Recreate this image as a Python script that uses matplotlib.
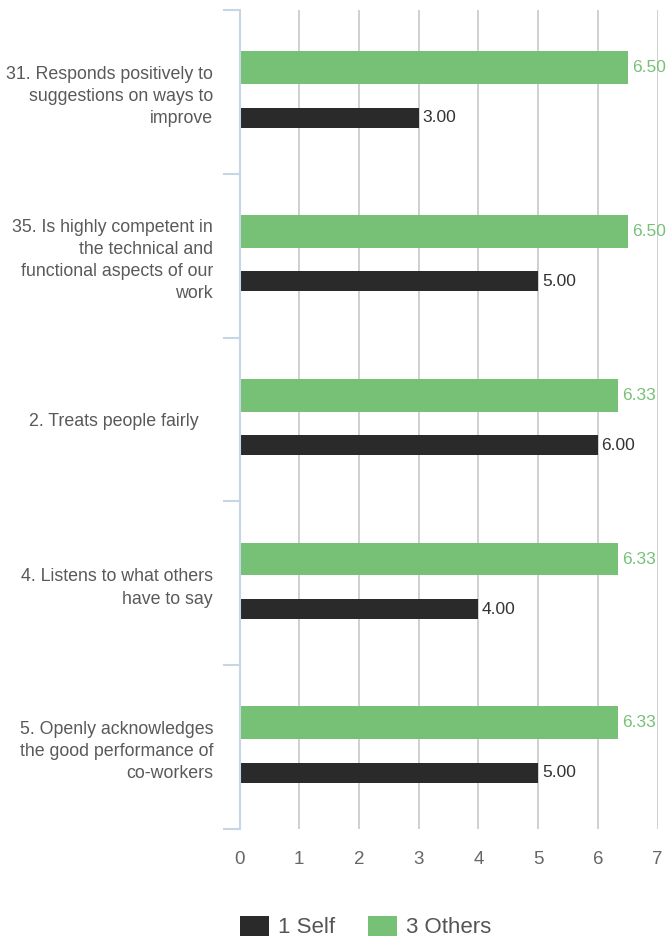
import matplotlib.pyplot as plt
import numpy as np
from matplotlib.patches import Patch

plt.rcParams['font.family'] = ['Liberation Sans', 'DejaVu Sans']

questions = [
    "31. Responds positively to\nsuggestions on ways to\nimprove",
    "35. Is highly competent in\nthe technical and\nfunctional aspects of our\nwork",
    "2. Treats people fairly   ",
    "4. Listens to what others\nhave to say",
    "5. Openly acknowledges\nthe good performance of\nco-workers",
]
self_scores = [3.00, 5.00, 6.00, 4.00, 5.00]
others_scores = [6.50, 6.50, 6.33, 6.33, 6.33]
series_names = ["1 Self", "3 Others"]

green = "#77c177"
dark = "#2a2a2a"
text_grey = "#595959"
axis_blue = "#c7d5e6"

W, H = 666, 941
fig = plt.figure(figsize=(W / 100, H / 100), dpi=100)
ax = fig.add_axes([239.5 / W, 1 - 829 / H, (657.7 - 239.5) / W, (829 - 10) / H])

y = np.arange(len(questions))
ax.barh(y - 0.148, others_scores, height=0.2, color=green, zorder=3)
ax.barh(y + 0.157, self_scores, height=0.122, color=dark, zorder=3)

for yi, v in zip(y, others_scores):
    ax.text(v + 0.08, yi - 0.148, f"{v:.2f}", color=green, fontsize=12.5,
            va="center", ha="left", zorder=4)
for yi, v in zip(y, self_scores):
    ax.text(v + 0.06, yi + 0.157, f"{v:.2f}", color="#333333", fontsize=12.5,
            va="center", ha="left", zorder=4)

ax.set_xlim(0, 7)
ax.set_ylim(len(questions) - 0.5, -0.5)
ax.set_xticks(range(8))
ax.xaxis.grid(True, color="#c8c8c8", linewidth=1.2, zorder=0)
ax.tick_params(axis="x", length=0, pad=16, labelsize=13.5, labelcolor="#666666")

# category boundaries get the short ticks, the labels sit between them
ax.set_yticks(np.arange(-0.5, len(questions), 1.0))
ax.set_yticklabels([])
ax.tick_params(axis="y", which="major", length=12, width=1.5, color=axis_blue)
ax.set_yticks(y, minor=True)
ax.set_yticklabels(questions, minor=True)
ax.tick_params(axis="y", which="minor", length=0, pad=19, labelsize=12.8,
               labelcolor=text_grey)
for lbl in ax.get_yticklabels(minor=True):
    lbl.set_linespacing(1.4)
    lbl.set_horizontalalignment("right")

for side in ["top", "right", "bottom"]:
    ax.spines[side].set_visible(False)
ax.spines["left"].set_color(axis_blue)
ax.spines["left"].set_linewidth(1.5)
ax.spines["left"].set_zorder(5)

handles = [Patch(facecolor=dark), Patch(facecolor=green)]
fig.legend(handles, series_names, loc="center left",
           bbox_to_anchor=(240 / W, 1 - 927 / H), ncol=2, frameon=False,
           fontsize=16, labelcolor="#555555", handlelength=1.3, handleheight=1.0,
           handletextpad=0.4, columnspacing=1.5, borderpad=0, borderaxespad=0)

fig.savefig("out.png", dpi=100)
